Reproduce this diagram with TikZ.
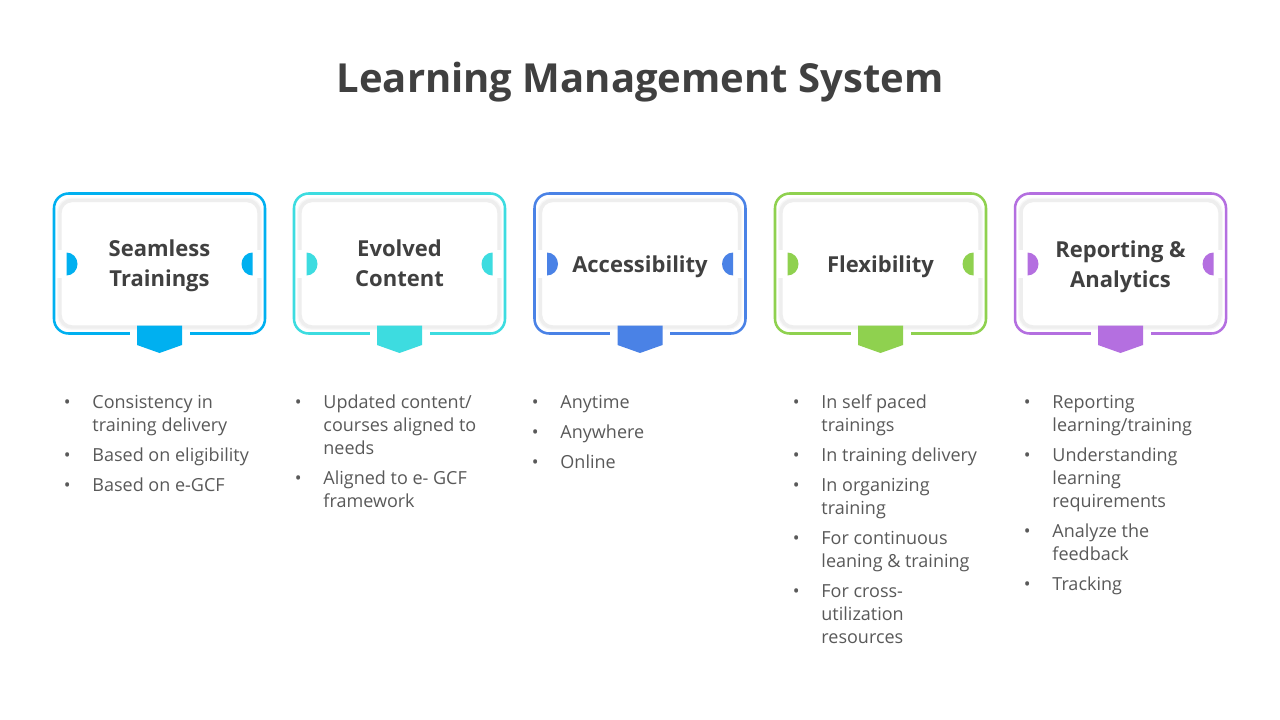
\documentclass[tikz,border=0pt]{standalone}
\usepackage{fontspec}
\setmainfont{Open Sans}
\definecolor{cA}{HTML}{00B0F0}
\definecolor{cB}{HTML}{3DDCE0}
\definecolor{cC}{HTML}{4A82E6}
\definecolor{cD}{HTML}{8FD14F}
\definecolor{cE}{HTML}{B46FE0}
\definecolor{titlegray}{HTML}{404040}
\definecolor{bulgray}{HTML}{595959}
\definecolor{shadowgray}{HTML}{EEEEEE}
\newcommand\bitem[1]{\hbox{\makebox[21.5pt][l]{\textbullet}#1}}
\newcommand\bcont[1]{\hbox{\hspace*{21.5pt}#1}}
\newcommand\bgap{\vskip5.25pt}
\tikzset{
  titletext/.style={font=\fontsize{30}{36}\selectfont\bfseries, text=titlegray, inner sep=0, anchor=base},
  headtext/.style={font=\fontsize{16.5}{22.5}\selectfont\bfseries, text=titlegray, align=center, inner sep=0},
  bultext/.style={font=\fontsize{13.5}{17.25}\selectfont, text=bulgray, inner sep=0, anchor=base west},
}
\begin{document}
\begin{tikzpicture}[x=0.75pt,y=-0.75pt]
\useasboundingbox[fill=white] (0,0) rectangle (1280,720);
\node[titletext] (title) at (640,92.5) {Learning Management System};
\foreach \cx/\col in {159.5/cA, 399.5/cB, 640/cC, 880.5/cD, 1120.5/cE}{
  % outer coloured frame
  \draw[\col, line width=1.9pt, rounded corners=11pt] (\cx-105.5,193.5) rectangle (\cx+105.5,333.5);
  \fill[white] (\cx-30,328) rectangle (\cx+30,339);
  % inner card
  \draw[black!3, line width=1.2pt, rounded corners=10pt] (\cx-101.5,198.5) rectangle (\cx+101.5,329);
  \draw[shadowgray, line width=2.6pt, fill=white, rounded corners=9pt] (\cx-99.5,200.5) rectangle (\cx+99.5,327);
  % side notches
  \fill[white] (\cx-103.5,250) rectangle (\cx-93,278);
  \fill[white] (\cx+93,250) rectangle (\cx+103.5,278);
  \fill[\col] (\cx-93,275.5) arc[start angle=90, end angle=-90, x radius=11, y radius=11.5] -- cycle;
  \fill[\col] (\cx+93,275.5) arc[start angle=90, end angle=270, x radius=11, y radius=11.5] -- cycle;
  % bottom tab
  \fill[\col] (\cx-22.5,325.5) -- (\cx+22.5,325.5) -- (\cx+22.5,345) -- (\cx,353) -- (\cx-22.5,345) -- cycle;
}
\node[headtext] (h1) at (159.5,266) {Seamless\\Trainings};
\node[headtext] (h2) at (399.5,263.5) {Evolved\\Content};
\node[headtext] (h3) at (640,267) {Accessibility};
\node[headtext] (h4) at (880.5,267) {Flexibility};
\node[headtext] (h5) at (1120.5,266.5) {Reporting \&\\Analytics};
\node[bultext] (l1) at (63.5,408) {\vtop{\baselineskip=17.25pt
  \bitem{Consistency in}\bcont{training delivery}\bgap
  \bitem{Based on eligibility}\bgap
  \bitem{Based on e-GCF}}};
\node[bultext] (l2) at (294.5,408) {\vtop{\baselineskip=17.25pt
  \bitem{Updated content/}\bcont{courses aligned to}\bcont{needs}\bgap
  \bitem{Aligned to e- GCF}\bcont{framework}}};
\node[bultext] (l3) at (531.5,408) {\vtop{\baselineskip=17.25pt
  \bitem{Anytime}\bgap
  \bitem{Anywhere}\bgap
  \bitem{Online}}};
\node[bultext] (l4) at (792.5,408) {\vtop{\baselineskip=17.25pt
  \bitem{In self paced}\bcont{trainings}\bgap
  \bitem{In training delivery}\bgap
  \bitem{In organizing}\bcont{training}\bgap
  \bitem{For continuous}\bcont{leaning \& training}\bgap
  \bitem{For cross-}\bcont{utilization}\bcont{resources}}};
\node[bultext] (l5) at (1023.5,408) {\vtop{\baselineskip=17.25pt
  \bitem{Reporting}\bcont{learning/training}\bgap
  \bitem{Understanding}\bcont{learning}\bcont{requirements}\bgap
  \bitem{Analyze the}\bcont{feedback}\bgap
  \bitem{Tracking}}};
\end{tikzpicture}
\end{document}
